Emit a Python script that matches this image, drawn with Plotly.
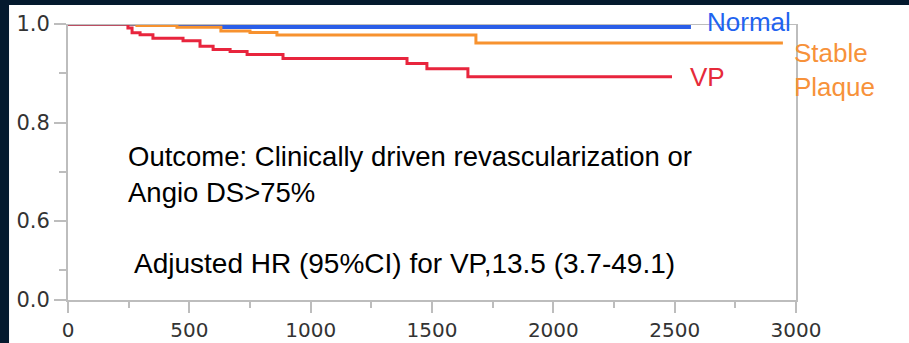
import plotly.graph_objects as go

# Kaplan-Meier style step data (days, event-free survival)
normal_days = [0, 634, 2567]
normal_surv = [1.0, 0.994, 0.994]

stable_days = [0, 284, 449, 630, 750, 861, 1681, 2946]
stable_surv = [1.0, 0.997, 0.9933, 0.9858, 0.9827, 0.9777, 0.9614, 0.9614]

vp_days = [0, 247, 264, 297, 350, 474, 544, 598, 668, 738, 886, 1397, 1479, 1648, 2489]
vp_surv = [1.0, 0.992, 0.982, 0.978, 0.971, 0.966, 0.955, 0.948, 0.944, 0.938,
           0.930, 0.920, 0.909, 0.893, 0.893]

x_ticks = [0, 500, 1000, 1500, 2000, 2500, 3000]
x_minor = [250, 750, 1250, 1750, 2250, 2750]
# broken y axis: the "0.0" label sits just below the 0.6 segment
y_break_value = 0.4396
y_tickvals = [y_break_value, 0.6, 0.8, 1.0]
y_ticktext = ["0.0", "0.6", "0.8", "1.0"]
y_minor = [0.5, 0.7, 0.9]

BLUE = "#2a5ee8"
ORANGE = "#f7922f"
RED = "#e8253d"
AXIS = "#bdbdbd"
BG = "#041a2e"

fig = go.Figure()
fig.add_trace(go.Scatter(x=normal_days, y=normal_surv, mode="lines",
                         line=dict(color=BLUE, width=4, shape="hv"), name="Normal"))
fig.add_trace(go.Scatter(x=stable_days, y=stable_surv, mode="lines",
                         line=dict(color=ORANGE, width=3, shape="hv"), name="Stable Plaque"))
fig.add_trace(go.Scatter(x=vp_days, y=vp_surv, mode="lines",
                         line=dict(color=RED, width=3, shape="hv"), name="VP"))

ytickfont = dict(family="DejaVu Sans, Verdana, sans-serif", size=21, color="#333333")
xtickfont = dict(family="DejaVu Sans, Verdana, sans-serif", size=20, color="#333333")

fig.update_layout(
    width=909, height=343,
    margin=dict(l=68, r=113, t=24, b=43, autoexpand=False),
    paper_bgcolor=BG,
    plot_bgcolor="white",
    showlegend=False,
    xaxis=dict(range=[0, 3000], tickmode="array", tickvals=x_ticks,
               ticks="outside", ticklen=11, tickwidth=2, tickcolor=AXIS,
               showline=True, linecolor=AXIS, linewidth=2, mirror=False,
               showgrid=False, zeroline=False, tickfont=xtickfont,
               minor=dict(tickmode="array", tickvals=x_minor, ticks="outside",
                          ticklen=6, tickwidth=2, tickcolor=AXIS, showgrid=False),
               layer="above traces"),
    yaxis=dict(range=[y_break_value, 1.0], tickmode="array", tickvals=y_tickvals,
               ticktext=y_ticktext,
               ticks="outside", ticklen=12, tickwidth=2, tickcolor=AXIS,
               showline=True, linecolor=AXIS, linewidth=2, mirror=True,
               showgrid=False, zeroline=False, tickfont=ytickfont,
               minor=dict(tickmode="array", tickvals=y_minor, ticks="outside",
                          ticklen=7, tickwidth=2, tickcolor=AXIS, showgrid=False),
               layer="above traces"),
)

# white panel behind the chart (dark border on the top and left)
fig.add_shape(type="rect", xref="paper", yref="paper",
              x0=-0.081, x1=1.16, y0=-0.16, y1=1.069,
              fillcolor="white", line=dict(width=0), layer="below")
# top frame line drawn over curves that sit at 1.0
fig.add_shape(type="line", xref="paper", yref="y", x0=0, x1=1, y0=1.0, y1=1.0,
              line=dict(color=AXIS, width=2), layer="above")

label_font = "Liberation Sans, Arial, sans-serif"
fig.add_annotation(x=2625, y=1.007, xref="x", yref="paper", text="Normal", showarrow=False,
                   xanchor="left", yanchor="middle",
                   font=dict(family=label_font, size=26, color="#2163f0"))
fig.add_annotation(x=2983, y=0.9066, xref="x", yref="y", text="Stable<br>Plaque",
                   showarrow=False, xanchor="left", yanchor="middle", align="left",
                   font=dict(family=label_font, size=26, color="#f7923a"))
fig.add_annotation(x=2555, y=0.8924, xref="x", yref="y", text="VP", showarrow=False,
                   xanchor="left", yanchor="middle",
                   font=dict(family=label_font, size=26, color="#e62a3a"))

fig.add_annotation(x=240, y=0.6954, xref="x", yref="y",
                   text="Outcome: Clinically driven revascularization or<br>Angio DS>75%",
                   showarrow=False, xanchor="left", yanchor="middle", align="left",
                   font=dict(family=label_font, size=27.5, color="black"))
fig.add_annotation(x=262, y=0.5147, xref="x", yref="y",
                   text="Adjusted HR (95%CI) for VP,13.5 (3.7-49.1)",
                   showarrow=False, xanchor="left", yanchor="middle", align="left",
                   font=dict(family=label_font, size=28, color="black"))

fig.write_html("out.html")
